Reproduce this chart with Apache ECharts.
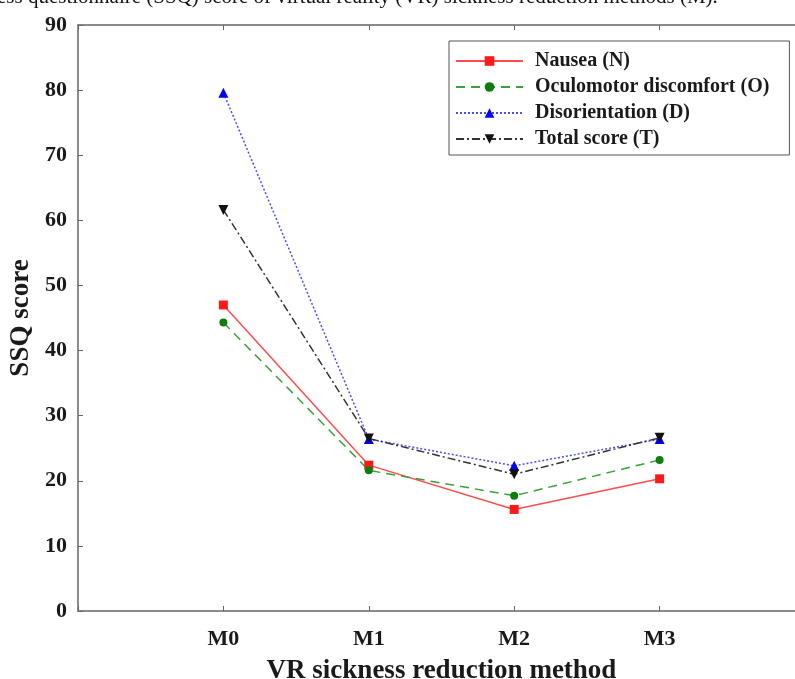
<!DOCTYPE html>
<html>
<head>
<meta charset="utf-8">
<script src="https://cdn.jsdelivr.net/npm/echarts@6/dist/echarts.min.js"></script>
<style>
  html, body { margin: 0; padding: 0; background: #fff; }
  #chart { width: 795px; height: 679px; }
</style>
</head>
<body>
<div id="chart"></div>
<script>
// reduction methods, plotted at x = 1..4 (axis runs 0..5 like the original)
const methods = ['M0', 'M1', 'M2', 'M3']
const nausea = [47.0, 22.4, 15.6, 20.3]
const oculomotor = [44.3, 21.6, 17.7, 23.2]
const disorientation = [79.6, 26.4, 22.3, 26.4]
const total = [61.6, 26.5, 21.0, 26.6]
const yTicks = [0, 10, 20, 30, 40, 50, 60, 70, 80, 90]

const FONT = '"Liberation Serif", "DejaVu Serif", serif'
const INK = '#1a1a1a'
const AXIS = '#666'

let toPoints = arr => arr.map((v, i) => [i + 1, v])

let seriesList = [
  {name: 'Nausea (N)', data: nausea, color: '#ff1a1a', line: '#ff4d4d', type: 'solid', symbol: 'rect', size: 9},
  {name: 'Oculomotor discomfort (O)', data: oculomotor, color: '#0b7d0b', line: '#3ca03c', type: [9, 6], symbol: 'circle', size: 8},
  {name: 'Disorientation (D)', data: disorientation, color: '#0000ff', line: '#4d4dff', type: [2, 2], symbol: 'triangle', size: 10},
  {name: 'Total score (T)', data: total, color: '#111', line: '#333', type: [8, 3, 2, 3], symbol: 'triangle', size: 10, rotate: 180}
]

let chart = echarts.init(document.getElementById('chart'))

let option = {
  backgroundColor: '#fff',
  animation: false,
  textStyle: {fontFamily: FONT},
  // plot box runs past the right edge of the picture, as in the original
  grid: {left: 78, top: 25, bottom: 68, width: 727, outerBoundsMode: 'none'},
  legend: {
    orient: 'vertical',
    left: 449,
    top: 41,
    borderColor: '#555',
    borderWidth: 1,
    padding: [10, 20, 6, 6],
    itemGap: 6,
    itemWidth: 67,
    itemHeight: 12,
    textStyle: {fontFamily: FONT, fontWeight: 'bold', fontSize: 20, color: INK, padding: [0, 0, 0, 7]},
    data: seriesList.map(s => s.name)
  },
  graphic: [{
    type: 'text',
    left: -3,
    top: -13,
    style: {
      text: 'ess questionnaire (SSQ) score of virtual reality (VR) sickness reduction methods (M).',
      font: '21px ' + FONT,
      fill: '#111'
    }
  }],
  xAxis: [{
    type: 'value',
    min: 0,
    max: 5,
    interval: 1,
    position: 'bottom',
    name: 'VR sickness reduction method',
    nameLocation: 'middle',
    nameGap: 47,
    nameTextStyle: {fontFamily: FONT, fontWeight: 'bold', fontSize: 27, color: INK},
    axisLine: {lineStyle: {color: AXIS, width: 1.5}},
    axisTick: {inside: true, length: 5, lineStyle: {color: AXIS}},
    axisLabel: {
      margin: 17,
      fontFamily: FONT, fontWeight: 'bold', fontSize: 22, color: INK,
      formatter: v => (v >= 1 && v <= methods.length) ? methods[v - 1] : ''
    },
    splitLine: {show: false}
  }, {
    type: 'value',
    min: 0,
    max: 5,
    interval: 1,
    position: 'top',
    axisLine: {lineStyle: {color: AXIS, width: 1.5}},
    axisTick: {inside: true, length: 5, lineStyle: {color: AXIS}},
    axisLabel: {show: false},
    splitLine: {show: false}
  }],
  yAxis: {
    type: 'value',
    min: yTicks[0],
    max: yTicks[yTicks.length - 1],
    interval: 10,
    name: 'SSQ score',
    nameLocation: 'middle',
    nameGap: 28,
    nameTextStyle: {fontFamily: FONT, fontWeight: 'bold', fontSize: 27, color: INK},
    axisLine: {show: true, lineStyle: {color: AXIS, width: 1.5}},
    axisTick: {show: true, inside: true, length: 5, lineStyle: {color: AXIS}},
    axisLabel: {margin: 11, fontFamily: FONT, fontWeight: 'bold', fontSize: 22, color: INK},
    splitLine: {show: false}
  },
  series: seriesList.map(s => ({
    name: s.name,
    type: 'line',
    data: toPoints(s.data),
    symbol: s.symbol,
    symbolSize: s.size,
    symbolRotate: s.rotate || 0,
    itemStyle: {color: s.color},
    lineStyle: {color: s.line, width: 1.5, type: s.type},
    emphasis: {disabled: true}
  }))
}

chart.setOption(option)
window.onresize = chart.resize
</script>
</body>
</html>
